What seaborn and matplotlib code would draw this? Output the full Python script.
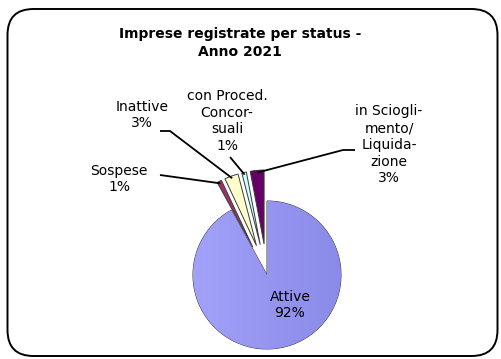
import numpy as np
import matplotlib
matplotlib.use("Agg")
import matplotlib.pyplot as plt
from matplotlib.patches import FancyBboxPatch
import seaborn as sns

# Registered businesses by status, 2021 (percent)
categories = ["Attive", "Sospese", "Inattive", "con Proced. Concorsuali",
              "in Scioglimento/Liquidazione"]
label_names = ["Attive", "Sospese", "Inattive", "con Proced.\nConcor-\nsuali",
               "in Sciogli-\nmento/\nLiquida-\nzione"]
values = [92, 1, 3, 1, 3]
colors = ["#9898F4", "#993366", "#FFFFCC", "#CCFFFF", "#660066"]
explode_frac = [0.0, 0.42, 0.42, 0.42, 0.42]

sns.set_theme(style="white")
plt.rcParams["font.family"] = ["DejaVu Sans"]
plt.rcParams["text.color"] = "black"

W, H = 502, 359
fig = plt.figure(figsize=(W / 100, H / 100), dpi=100)
ax = fig.add_axes([0, 0, 1, 1])

cx, cy, R = 267, H - 275, 74
wedges, _ = ax.pie(values, colors=colors, explode=[e * R for e in explode_frac],
                   startangle=90, counterclock=False, center=(cx, cy), radius=R,
                   wedgeprops=dict(edgecolor="#3a3a3a", linewidth=0.7))
ax.set_aspect("equal")
ax.axis("off")

# soft left-to-right shading on the large slice
grad = np.linspace(0, 1, 256).reshape(1, -1)
cmap = matplotlib.colors.LinearSegmentedColormap.from_list("g", ["#A2A2FA", "#8A8AE8"])
im = ax.imshow(grad, cmap=cmap, extent=(cx - R, cx + R, cy - R, cy + R),
               aspect="auto", zorder=wedges[0].get_zorder() + 0.1)
im.set_clip_path(wedges[0])
ax.set_xlim(0, W)
ax.set_ylim(0, H)


def edge_point(w, frac=1.0):
    mid = np.deg2rad((w.theta1 + w.theta2) / 2)
    return (w.center[0] + frac * w.r * np.cos(mid),
            w.center[1] + frac * w.r * np.sin(mid))


fs = 10
# label inside the large slice
ax.text(290, H - 305, f"{label_names[0]}\n{values[0]}%", ha="center", va="center",
        fontsize=fs, color="black", zorder=5)

# outside labels: text position and leader-line elbow (pixels from top)
label_pos = {1: (119, 179), 2: (142, 115), 3: (227, 121), 4: (389, 145)}
elbows = {1: [(160, 175)], 2: [(160, 131), (170, 131)], 3: [(230, 157)],
          4: [(355, 150), (343, 150)]}
for i in range(1, 5):
    x, y = label_pos[i]
    ax.text(x, H - y, f"{label_names[i]}\n{values[i]}%", ha="center", va="center",
            fontsize=fs, color="black", linespacing=1.25, zorder=5)
    px, py = edge_point(wedges[i], 0.97)
    pts = [(ex, H - ey) for ex, ey in elbows[i]] + [(px, py)]
    ax.plot([p[0] for p in pts], [p[1] for p in pts], color="black", lw=1.3,
            solid_capstyle="butt", zorder=4)

ax.text(240, H - 43, "Imprese registrate per status -\nAnno 2021", ha="center",
        va="center", fontsize=10, fontweight="bold", color="black", linespacing=1.3)

frame = FancyBboxPatch((7.5, H - 356), 490, 347,
                       boxstyle="round,pad=0,rounding_size=26",
                       facecolor="none", edgecolor="black", linewidth=1.4, zorder=6)
ax.add_patch(frame)

fig.savefig("out.png", dpi=100, facecolor="white")
